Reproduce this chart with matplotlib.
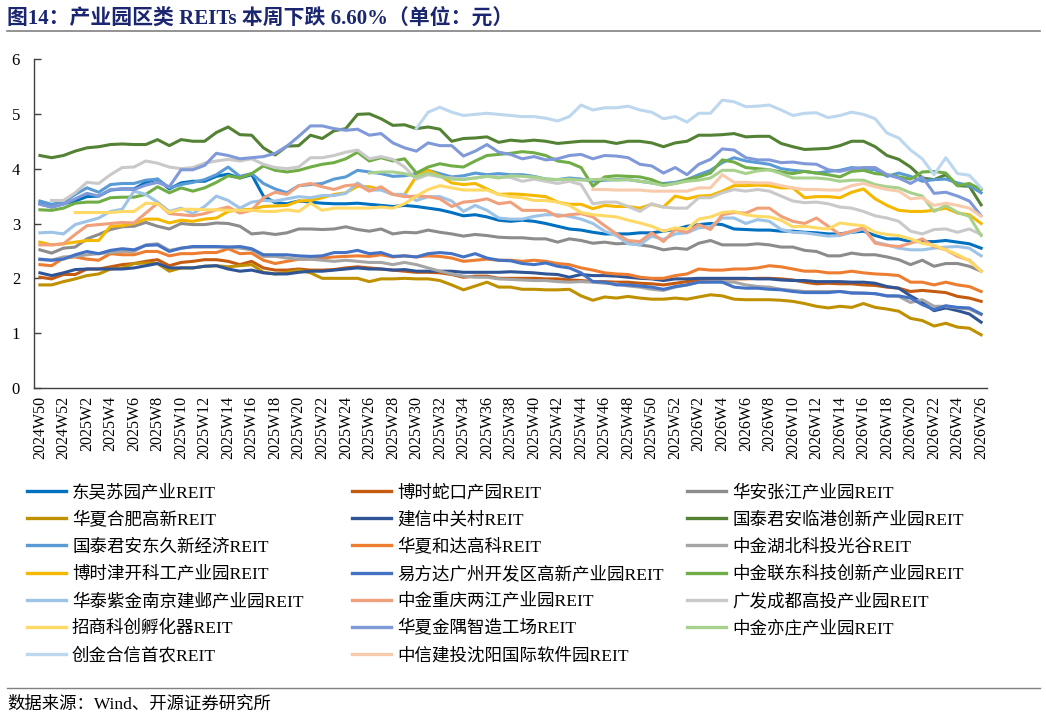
import numpy as np
import matplotlib
matplotlib.use('Agg')
import matplotlib.pyplot as plt
from matplotlib.lines import Line2D

NaN = np.nan
W, H = 1046, 717

# weekly points, 2024W50 .. 2026W26
weeks = ['2024W50', '2024W51', '2024W52'] + [f'2025W{i}' for i in range(1, 53)] + [f'2026W{i}' for i in range(1, 27)]

dongwu_suyuan = [3.36, 3.30, 3.36, 3.41, 3.49, 3.50, 3.61, 3.63, 3.63, 3.75, 3.81, 3.63, 3.74, 3.77, 3.77, 3.86, 3.90, 3.83, 3.89, 3.50, 3.38,
                 3.36, 3.41, 3.39, 3.37, 3.36, 3.36, 3.37, 3.35, 3.33, 3.31, 3.33, 3.31, 3.28, 3.25, 3.20, 3.14, 3.16, 3.12, 3.06, 3.04,
                 3.06, 3.04, 3.00, 2.95, 2.90, 2.88, 2.84, 2.81, 2.81, 2.81, 2.83, 2.83, 2.86, 2.89, 2.95, 2.98, 3.00, 2.98, 2.90, 2.89, 2.88,
                 2.88, 2.86, 2.86, 2.84, 2.83, 2.81, 2.81, 2.84, 2.86, 2.78, 2.72, 2.72, 2.67, 2.67, 2.67, 2.69, 2.66, 2.63, 2.55]
boshi_shekou = [2.02, 1.99, 2.07, 2.07, 2.17, 2.17, 2.21, 2.25, 2.27, 2.31, 2.34, 2.23, 2.29, 2.31, 2.34, 2.34, 2.31, 2.25, 2.31, 2.19, 2.15,
                2.15, 2.17, 2.15, 2.15, 2.16, 2.19, 2.21, 2.19, 2.17, 2.15, 2.13, 2.11, 2.11, 2.10, 2.07, 2.02, 2.04, 2.04, 2.00, 2.00,
                2.00, 2.00, 1.99, 1.99, 1.97, 1.96, 1.94, 1.94, 1.93, 1.93, 1.91, 1.90, 1.88, 1.91, 1.94, 1.96, 1.97, 1.99, 1.99, 1.99, 2.00,
                2.00, 1.99, 1.97, 1.93, 1.90, 1.91, 1.90, 1.90, 1.88, 1.87, 1.84, 1.82, 1.76, 1.78, 1.76, 1.74, 1.67, 1.64, 1.58]
huaan_zhangjiang = [2.52, 2.46, 2.55, 2.57, 2.72, 2.80, 2.89, 2.94, 2.95, 3.02, 2.95, 2.90, 3.00, 2.98, 2.98, 3.01, 3.00, 2.95, 2.81, 2.83, 2.80,
                    2.83, 2.90, 2.90, 2.89, 2.90, 2.94, 2.89, 2.86, 2.90, 2.81, 2.84, 2.83, 2.88, 2.84, 2.81, 2.77, 2.80, 2.78, 2.75, 2.74,
                    2.74, 2.72, 2.72, 2.66, 2.72, 2.69, 2.64, 2.66, 2.63, 2.64, 2.61, 2.58, 2.52, 2.55, 2.53, 2.64, 2.69, 2.61, 2.61, 2.61, 2.63,
                    2.61, 2.57, 2.57, 2.51, 2.49, 2.41, 2.41, 2.46, 2.43, 2.43, 2.39, 2.34, 2.25, 2.33, 2.22, 2.27, 2.27, 2.22, 2.13]
huaxia_hefei = [1.88, 1.88, 1.94, 1.99, 2.05, 2.08, 2.17, 2.19, 2.27, 2.28, 2.27, 2.13, 2.19, 2.19, 2.22, 2.23, 2.21, 2.23, 2.25, 2.11, 2.08,
                2.11, 2.15, 2.10, 2.00, 2.00, 2.00, 2.00, 1.94, 1.99, 1.99, 2.00, 1.99, 1.99, 1.96, 1.88, 1.79, 1.86, 1.93, 1.84, 1.84,
                1.80, 1.80, 1.79, 1.79, 1.80, 1.68, 1.60, 1.66, 1.64, 1.67, 1.64, 1.62, 1.62, 1.64, 1.62, 1.66, 1.70, 1.68, 1.62, 1.61, 1.61,
                1.61, 1.60, 1.58, 1.54, 1.49, 1.46, 1.49, 1.47, 1.54, 1.47, 1.44, 1.40, 1.27, 1.23, 1.13, 1.18, 1.11, 1.09, 0.97]
jianxin_zgc = [2.10, 2.05, 2.10, 2.16, 2.17, 2.17, 2.17, 2.17, 2.19, 2.23, 2.27, 2.19, 2.19, 2.19, 2.22, 2.23, 2.17, 2.13, 2.15, 2.10, 2.08,
               2.08, 2.11, 2.13, 2.13, 2.15, 2.17, 2.19, 2.17, 2.17, 2.15, 2.16, 2.13, 2.13, 2.13, 2.13, 2.11, 2.11, 2.11, 2.11, 2.12,
               2.11, 2.10, 2.08, 2.07, 2.02, 2.07, 2.05, 2.05, 2.04, 2.02, 2.00, 1.99, 1.96, 1.99, 1.99, 2.00, 2.00, 2.00, 2.00, 2.00, 1.99,
               1.99, 1.97, 1.96, 1.96, 1.94, 1.94, 1.94, 1.93, 1.93, 1.91, 1.85, 1.82, 1.68, 1.56, 1.41, 1.46, 1.41, 1.35, 1.20]
gtja_lingang = [4.24, 4.20, 4.24, 4.32, 4.38, 4.40, 4.44, 4.45, 4.44, 4.44, 4.53, 4.42, 4.53, 4.50, 4.50, 4.66, 4.76, 4.62, 4.61, 4.38, 4.25,
                4.41, 4.42, 4.61, 4.55, 4.69, 4.73, 4.99, 5.00, 4.91, 4.79, 4.80, 4.73, 4.76, 4.72, 4.50, 4.55, 4.56, 4.58, 4.48, 4.52,
                4.50, 4.52, 4.50, 4.46, 4.48, 4.50, 4.50, 4.50, 4.46, 4.50, 4.50, 4.47, 4.40, 4.47, 4.50, 4.61, 4.61, 4.62, 4.64, 4.58, 4.59,
                4.59, 4.46, 4.40, 4.35, 4.36, 4.37, 4.42, 4.50, 4.50, 4.40, 4.24, 4.17, 4.03, 3.83, 3.80, 3.89, 3.69, 3.68, 3.34]
gtja_dongjiu = [3.41, 3.35, 3.39, 3.53, 3.65, 3.57, 3.71, 3.73, 3.73, 3.79, 3.81, 3.65, 3.71, 3.75, 3.80, 3.89, 4.03, 3.86, 3.91, 3.73, 3.63,
                3.56, 3.69, 3.71, 3.73, 3.81, 3.85, 3.97, 3.94, 3.91, 3.86, 3.87, 3.91, 3.97, 3.91, 3.85, 3.87, 3.92, 3.89, 3.91, 3.89,
                3.89, 3.86, 3.81, 3.80, 3.83, 3.81, 3.77, 3.79, 3.80, 3.80, 3.77, 3.74, 3.73, 3.75, 3.80, 3.89, 3.97, 4.11, 4.20, 4.14, 4.11,
                4.08, 4.00, 3.97, 3.95, 3.92, 3.95, 3.97, 4.02, 4.00, 3.98, 3.86, 3.92, 3.86, 3.77, 3.80, 3.81, 3.74, 3.69, 3.56]
huaxia_heda = [2.25, 2.23, 2.37, 2.39, 2.35, 2.33, 2.45, 2.43, 2.43, 2.49, 2.49, 2.41, 2.45, 2.45, 2.47, 2.47, 2.54, 2.45, 2.46, 2.33, 2.27,
               2.31, 2.35, 2.35, 2.37, 2.39, 2.40, 2.41, 2.40, 2.43, 2.39, 2.41, 2.39, 2.41, 2.40, 2.37, 2.31, 2.33, 2.35, 2.33, 2.33,
               2.31, 2.33, 2.31, 2.27, 2.25, 2.19, 2.15, 2.10, 2.08, 2.07, 2.02, 2.00, 2.00, 2.05, 2.08, 2.17, 2.15, 2.15, 2.17, 2.17, 2.19,
               2.23, 2.21, 2.17, 2.13, 2.13, 2.10, 2.10, 2.13, 2.10, 2.08, 2.07, 2.05, 1.93, 1.93, 1.88, 1.93, 1.88, 1.85, 1.76]
zj_hubei = [2.34, 2.33, 2.39, 2.40, 2.43, 2.45, 2.47, 2.49, 2.49, 2.61, 2.63, 2.51, 2.55, 2.57, 2.57, 2.57, 2.57, 2.55, 2.52, 2.40, 2.40,
            2.37, 2.35, 2.35, 2.33, 2.31, 2.33, 2.31, 2.29, 2.29, 2.25, 2.29, 2.25, 2.19, 2.13, 2.08, 2.04, 2.02, 2.02, 1.99, 1.98,
            1.97, 1.96, 1.96, 1.94, 1.93, 1.94, 1.93, 1.91, 1.90, 1.86, 1.84, 1.80, 1.78, 1.84, 1.88, 1.93, 1.94, 1.94, 1.93, 1.88, 1.85,
            1.84, 1.80, 1.78, 1.76, 1.76, 1.76, 1.76, 1.74, 1.73, 1.72, 1.68, 1.67, 1.56, 1.61, 1.49, 1.49, 1.46, 1.44, 1.34]
boshi_jinkai = [2.66, 2.61, 2.63, 2.66, 2.69, 2.69, 2.95, 2.96, 3.00, 3.08, 3.08, 3.01, 3.06, 3.04, 3.08, 3.10, 3.22, 3.25, 3.26, 3.31, 3.32,
                3.33, 3.41, 3.42, 3.47, 3.53, 3.56, 3.68, 3.67, 3.62, 3.53, 3.53, 3.86, 3.97, 3.87, 3.74, 3.71, 3.73, 3.63, 3.53, 3.54,
                3.53, 3.51, 3.49, 3.39, 3.35, 3.35, 3.27, 3.33, 3.31, 3.31, 3.28, 3.35, 3.30, 3.50, 3.45, 3.50, 3.51, 3.59, 3.69, 3.69, 3.70,
                3.69, 3.65, 3.65, 3.47, 3.49, 3.49, 3.47, 3.57, 3.63, 3.45, 3.33, 3.24, 3.22, 3.22, 3.24, 3.28, 3.19, 3.16, 3.00]
yfd_guangzhou = [2.35, 2.33, 2.35, 2.43, 2.49, 2.45, 2.51, 2.54, 2.52, 2.60, 2.61, 2.49, 2.55, 2.58, 2.58, 2.58, 2.57, 2.58, 2.54, 2.43, 2.43,
                 2.43, 2.41, 2.40, 2.41, 2.47, 2.47, 2.51, 2.45, 2.47, 2.40, 2.41, 2.39, 2.45, 2.47, 2.45, 2.39, 2.45, 2.37, 2.33, 2.32,
                 2.27, 2.25, 2.28, 2.22, 2.19, 2.10, 1.94, 1.93, 1.88, 1.88, 1.86, 1.84, 1.80, 1.85, 1.88, 1.93, 1.93, 1.93, 1.84, 1.82, 1.82,
                 1.80, 1.79, 1.76, 1.74, 1.74, 1.74, 1.76, 1.73, 1.73, 1.72, 1.68, 1.68, 1.64, 1.52, 1.43, 1.50, 1.47, 1.46, 1.35]
zj_liandong = [3.25, 3.24, 3.28, 3.37, 3.39, 3.39, 3.47, 3.48, 3.48, 3.53, 3.67, 3.56, 3.65, 3.59, 3.65, 3.75, 3.87, 3.83, 3.91, 4.05, 3.97,
               3.94, 3.97, 4.03, 4.08, 4.11, 4.18, 4.30, 4.14, 4.20, 4.14, 4.18, 3.92, 4.03, 4.09, 4.05, 4.03, 4.14, 4.24, 4.26, 4.28,
               4.31, 4.29, 4.24, 4.14, 4.11, 4.02, 3.68, 3.85, 3.87, 3.86, 3.85, 3.80, 3.71, 3.73, 3.80, 3.85, 3.92, 4.16, 4.12, 4.02, 4.00,
               3.98, 3.94, 3.91, 3.95, 3.92, 3.89, 3.85, 3.95, 3.97, 3.91, 3.89, 3.85, 3.81, 3.94, 3.95, 3.92, 3.69, 3.73, 3.62]
ht_nanjing = [2.83, 2.84, 2.81, 2.98, 3.04, 3.10, 3.22, 3.26, 3.59, 3.53, 3.39, 3.22, 3.28, 3.18, 3.31, 3.50, 3.42, 3.28, 3.39, 3.42, 3.41,
              3.45, 3.49, 3.47, 3.51, 3.51, 3.55, 3.74, 3.61, 3.61, 3.53, 3.53, 3.42, 3.49, 3.49, 3.41, 3.22, 3.33, 3.24, 3.10, 3.08,
              3.08, 3.13, 3.16, 3.16, 3.13, 3.08, 3.00, 2.86, 2.78, 2.63, 2.61, 2.77, 2.71, 2.81, 2.83, 2.92, 2.94, 3.10, 3.10, 3.00, 3.07,
              3.04, 2.89, 2.84, 2.83, 2.80, 2.77, 2.78, 2.84, 2.90, 2.66, 2.61, 2.55, 2.52, 2.52, 2.55, 2.57, 2.58, 2.55, 2.41]
zj_chongqing = [2.61, 2.61, 2.63, 2.80, 2.96, 2.98, 3.00, 3.02, 3.01, 3.19, 3.37, 3.18, 3.16, 3.14, 3.18, 3.25, 3.30, 3.19, 3.24, 3.47, 3.57,
                3.53, 3.69, 3.73, 3.67, 3.62, 3.69, 3.71, 3.59, 3.67, 3.53, 3.49, 3.50, 3.49, 3.45, 3.31, 3.39, 3.41, 3.45, 3.36, 3.39,
                3.24, 3.24, 3.24, 3.13, 3.16, 3.18, 3.12, 2.96, 2.81, 2.69, 2.67, 2.83, 2.67, 2.89, 2.84, 2.98, 2.89, 3.16, 3.20, 3.19, 3.28,
                3.28, 3.13, 3.04, 3.00, 3.10, 2.95, 2.80, 2.86, 2.92, 2.64, 2.60, 2.58, 2.64, 2.72, 2.58, 2.52, 2.40, 2.33, 2.13]
gf_chengdu = [NaN, 3.42, 3.42, 3.56, 3.75, 3.73, 3.89, 4.02, 4.03, 4.14, 4.10, 4.03, 4.00, 4.02, 4.10, 4.14, 4.17, 4.14, 4.18, 4.08, 4.02,
              4.00, 4.03, 4.20, 4.20, 4.24, 4.30, 4.34, 4.18, 4.22, 4.17, 4.03, 3.81, 3.89, 3.85, 3.83, 3.81, 3.83, 3.86, 3.85, 3.84,
              3.77, 3.81, 3.77, 3.73, 3.77, 3.71, 3.36, 3.39, 3.39, 3.31, 3.22, 3.36, 3.30, 3.28, 3.28, 3.47, 3.47, 3.56, 3.62, 3.59, 3.62,
              3.59, 3.50, 3.41, 3.38, 3.39, 3.36, 3.30, 3.28, 3.22, 3.14, 3.10, 3.04, 2.86, 2.81, 2.89, 2.90, 2.84, 2.90, 2.80]
zs_fuhuaqi = [NaN, NaN, NaN, 3.20, 3.20, 3.20, 3.20, 3.22, 3.22, 3.37, 3.36, 3.20, 3.26, 3.26, 3.25, 3.25, 3.24, 3.24, 3.24, 3.22, 3.22,
              3.25, 3.22, 3.37, 3.24, 3.28, 3.28, 3.28, 3.28, 3.30, 3.28, 3.36, 3.50, 3.62, 3.69, 3.65, 3.61, 3.61, 3.61, 3.53, 3.49,
              3.47, 3.42, 3.42, 3.39, 3.33, 3.20, 3.16, 3.14, 3.12, 3.06, 3.01, 2.95, 2.86, 2.92, 2.90, 3.08, 3.12, 3.20, 3.22, 3.16, 3.13,
              3.12, 3.06, 2.94, 2.95, 2.92, 2.90, 3.01, 2.98, 2.96, 2.84, 2.80, 2.78, 2.72, 2.64, 2.60, 2.52, 2.43, 2.32, 2.13]
hx_jinyu = [3.35, 3.30, 3.35, 3.45, 3.55, 3.50, 3.62, 3.63, 3.62, 3.70, 3.75, 3.67, 3.98, 3.98, 4.06, 4.28, 4.24, 4.18, 4.20, 4.22, 4.28,
            4.41, 4.59, 4.78, 4.78, 4.73, 4.70, 4.72, 4.61, 4.64, 4.47, 4.38, 4.32, 4.47, 4.42, 4.42, 4.23, 4.32, 4.44, 4.30, 4.26,
            4.18, 4.22, 4.16, 4.18, 4.24, 4.26, 4.18, 4.24, 4.23, 4.20, 4.08, 4.05, 3.92, 4.02, 3.89, 4.08, 4.17, 4.36, 4.34, 4.20, 4.16,
            4.16, 4.11, 4.12, 4.09, 4.08, 3.98, 3.95, 4.00, 4.02, 4.02, 3.89, 3.83, 3.73, 3.85, 3.55, 3.57, 3.50, 3.41, 3.14]
zj_yizhuang = [NaN] * 28 + [
               3.92, 3.94, 3.94, 3.91, 3.85, 3.92, 3.86, 3.81, 3.80, 3.83, 3.86, 3.83, 3.87,
               3.86, 3.85, 3.81, 3.80, 3.81, 3.79, 3.80, 3.81, 3.79, 3.80, 3.77, 3.74, 3.69, 3.73, 3.77, 3.79, 3.83, 3.97, 3.97, 3.91, 3.96,
               3.98, 3.91, 3.83, 3.83, 3.83, 3.81, 3.77, 3.79, 3.79, 3.71, 3.67, 3.65, 3.56, 3.50, 3.22, 3.33, 3.20, 3.13, 2.78]
cj_shounong = [NaN] * 32 + [
               4.73, 5.03, 5.12, 5.03, 4.97, 4.99, 5.01, 4.99, 4.97,
               4.95, 4.95, 4.92, 4.87, 4.95, 5.16, 5.07, 5.11, 5.11, 5.14, 5.07, 5.03, 4.91, 4.95, 4.85, 5.01, 5.01, 5.25, 5.22, 5.13, 5.14,
               5.16, 5.07, 4.97, 5.01, 5.02, 4.93, 4.97, 5.03, 4.99, 4.91, 4.65, 4.56, 4.34, 4.18, 3.89, 4.20, 3.91, 3.88, 3.65]
zx_shenyang = [NaN] * 47 + [
               3.62, 3.62, 3.61, 3.61, 3.61, 3.59, 3.59, 3.59, 3.59, 3.65, 3.65, 3.89, 3.75, 3.75, 3.74,
               3.74, 3.69, 3.65, 3.62, 3.62, 3.61, 3.61, 3.69, 3.73, 3.67, 3.62, 3.59, 3.45, 3.47, 3.33, 3.37, 3.33, 3.28, 3.13]

series = [dongwu_suyuan, boshi_shekou, huaan_zhangjiang, huaxia_hefei, jianxin_zgc, gtja_lingang, gtja_dongjiu,
          huaxia_heda, zj_hubei, boshi_jinkai, yfd_guangzhou, zj_liandong, ht_nanjing, zj_chongqing, gf_chengdu,
          zs_fuhuaqi, hx_jinyu, zj_yizhuang, cj_shounong, zx_shenyang]
names = ['东吴苏园产业REIT', '博时蛇口产园REIT', '华安张江产业园REIT', '华夏合肥高新REIT', '建信中关村REIT',
         '国泰君安临港创新产业园REIT', '国泰君安东久新经济REIT', '华夏和达高科REIT', '中金湖北科投光谷REIT',
         '博时津开科工产业园REIT', '易方达广州开发区高新产业园REIT', '中金联东科技创新产业园REIT',
         '华泰紫金南京建邺产业园REIT', '中金重庆两江产业园REIT', '广发成都高投产业园REIT', '招商科创孵化器REIT',
         '华夏金隅智造工场REIT', '中金亦庄产业园REIT', '创金合信首农REIT', '中信建投沈阳国际软件园REIT']
colors = ['#0070C0', '#C55A11', '#8C8C8C', '#BF9000', '#2F5597', '#548235', '#5B9BD5', '#ED7D31', '#A5A5A5',
          '#F5B800', '#4472C4', '#70AD47', '#9DC3E6', '#F1A07C', '#C9C9C9', '#FFD966', '#8099D8', '#A9D18E',
          '#BDD7EE', '#F8CBAD']

SERIF = 'Liberation Serif'
MIXED = ['Liberation Serif', 'Noto Sans CJK SC']


def px(x, y):
    # pixel position -> figure fraction
    return x / W, 1 - y / H


fig = plt.figure(figsize=(W / 100, H / 100), dpi=100)
fig.patch.set_facecolor('white')

# plot area
x0, y0 = px(34, 388)
x1, y1 = px(987, 59)
ax = fig.add_axes([x0, y0, x1 - x0, y1 - y0])

x = np.arange(len(weeks))
for k, (vals, color) in enumerate(zip(series, colors)):
    ax.plot(x, vals, color=color, lw=2.2, zorder=2 + k * 0.01)

ax.set_xlim(-0.5, len(weeks) - 0.5)
ax.set_ylim(0, 6)
ax.set_yticks(range(0, 7))
ax.set_xticks(x[::2])
ax.set_xticklabels(weeks[::2], rotation=90, fontfamily=SERIF, fontsize=11.5)
for lab in ax.get_yticklabels():
    lab.set_fontfamily(SERIF)
    lab.set_fontsize(12)
ax.tick_params(axis='y', direction='in', length=5, width=1, pad=10, colors='#404040', labelcolor='black')
ax.tick_params(axis='x', length=0, pad=6, labelcolor='black')

for side in ['top', 'right']:
    ax.spines[side].set_visible(False)
for side in ['left', 'bottom']:
    ax.spines[side].set_color('#404040')
    ax.spines[side].set_linewidth(1.0)

# legend: 3 columns, filled row by row
col_x = [27, 352, 687]
for k, (name, color) in enumerate(zip(names, colors)):
    row, col = divmod(k, 3)
    ly = 491 + row * 27.2
    hx0, hy = px(col_x[col], ly)
    hx1, _ = px(col_x[col] + 39, ly)
    fig.add_artist(Line2D([hx0, hx1], [hy, hy], transform=fig.transFigure, color=color, lw=2.4))
    tx, ty = px(col_x[col] + 45, ly)
    fig.text(tx, ty, name, family=MIXED, fontsize=12.6, ha='left', va='center_baseline')

# title and source
tx, ty = px(7, 16)
fig.text(tx, ty, '图14：产业园区类 REITs 本周下跌 6.60%（单位：元）', family=MIXED, fontsize=15,
         fontweight='bold', color='#1B2670', ha='left', va='center_baseline')
lx0, ly0 = px(7, 31)
lx1, _ = px(1040, 31)
fig.add_artist(Line2D([lx0, lx1], [ly0, ly0], transform=fig.transFigure, color='#808080', lw=1.2))

lx0, ly0 = px(7, 688)
fig.add_artist(Line2D([lx0, lx1], [ly0, ly0], transform=fig.transFigure, color='#808080', lw=1.0))
tx, ty = px(7, 703)
fig.text(tx, ty, '数据来源：Wind、开源证券研究所', family=MIXED, fontsize=12.5, ha='left', va='center_baseline')

fig.savefig('out.png', dpi=100, facecolor='white')
plt.close(fig)
